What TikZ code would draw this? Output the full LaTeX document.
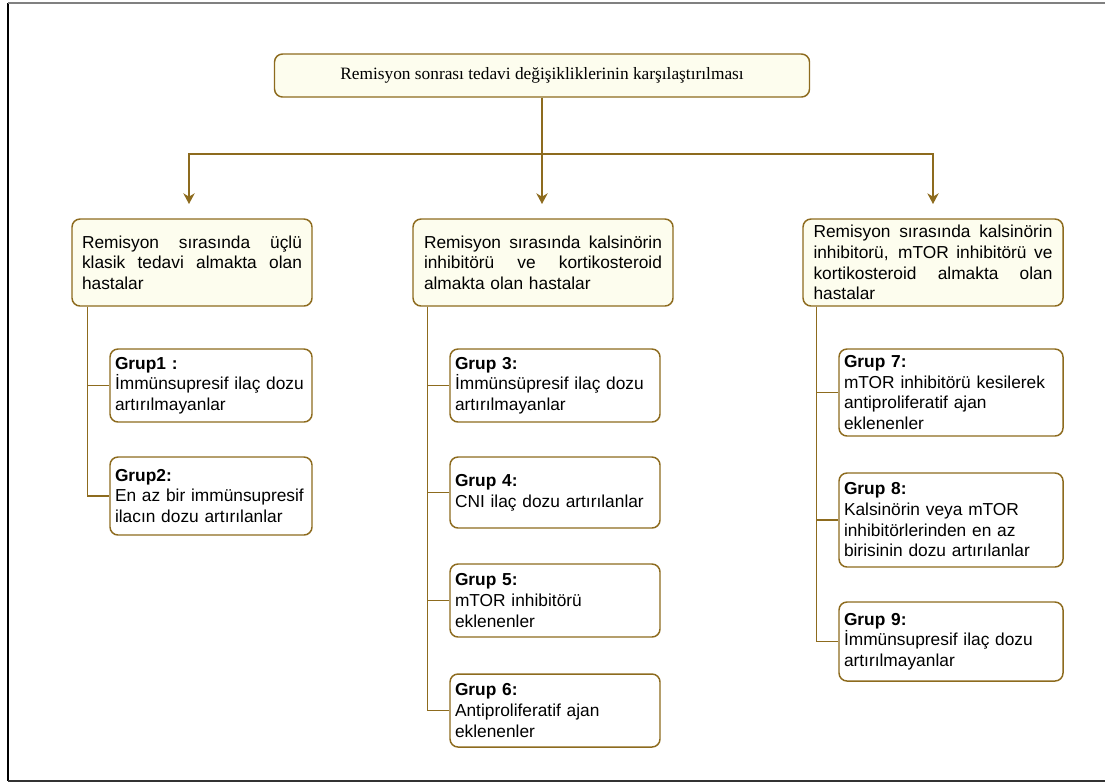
\documentclass[tikz,border=0pt]{standalone}
\usepackage{fontspec}
\setmainfont{Liberation Serif}
\setsansfont{Liberation Sans}
\usetikzlibrary{arrows.meta}
\definecolor{brn}{HTML}{8D6B1E}
\definecolor{cream}{HTML}{FDFDEE}
% one fully justified line, as wide as the node's text block
\newcommand{\jline}[1]{\noindent\hbox to \hsize{\spaceskip=0pt plus 1fill\relax #1}}
\begin{document}
\begin{tikzpicture}[x=0.75pt,y=-0.75pt,
  base/.style={draw=brn,line width=1.1pt,rounded corners=6pt,inner sep=0pt,
    font=\sffamily\fontsize{13}{15.5}\selectfont,align=left},
  head/.style={base,fill=cream,font=\rmfamily\fontsize{13}{15.5}\selectfont,align=center},
  cat/.style={base,fill=cream,minimum height=65.25pt},
  grp/.style={base,fill=white},
  link/.style={draw=brn,line width=1.1pt},
  arr/.style={link,-{Stealth[length=8pt,width=8.5pt,inset=2.5pt]}}]
\useasboundingbox (0,0) rectangle (1105,783);

% page frame
\draw[black,line width=1.5pt] (8,3) -- (8,781);
\draw[gray,line width=1.2pt] (8,3) -- (1105,3);
\draw[black!80,line width=1.5pt] (8,781) -- (1105,781);

% title
\node[head,minimum width=401.25pt,minimum height=32.25pt] (top) at (542,75.5)
  {Remisyon sonrası tedavi değişikliklerinin karşılaştırılması};

% branching arrows
\coordinate (hub) at (top.south |- 0,154);
\coordinate (ea) at (189,204);
\coordinate (eb) at (top.south |- 0,204);
\coordinate (ec) at (933,204);
\draw[link] (top.south) -- (hub);
\draw[arr] (hub) -| (ea);
\draw[arr] (hub) -| (ec);
\draw[arr] (top.south) -- (eb);

% patient categories
\node[cat,minimum width=180pt,text width=165pt] (A) at (192,262.5)
  {\jline{Remisyon sırasında üçlü}\\\jline{klasik tedavi almakta olan}\\hastalar};
\node[cat,minimum width=195pt,text width=178.5pt] (B) at (543,262.5)
  {\jline{Remisyon sırasında kalsinörin}\\\jline{inhibitörü ve kortikosteroid}\\almakta olan hastalar};
\node[cat,minimum width=195pt,text width=179.25pt] (C) at (933,262.5)
  {\jline{Remisyon sırasında kalsinörin}\\\jline{inhibitorü, mTOR inhibitörü ve}\\\jline{kortikosteroid almakta olan}\\hastalar};

% groups, first column
\node[grp,minimum width=151.5pt,text width=144pt,minimum height=54.75pt] (g1) at (211,385.5)
  {\textbf{Grup1 :}\\İmmünsupresif ilaç dozu\\artırılmayanlar};
\node[grp,minimum width=151.5pt,text width=144pt,minimum height=58.5pt] (g2) at (211,496)
  {\textbf{Grup2:}\\En az bir immünsupresif\\ilacın dozu artırılanlar};

% groups, second column
\node[grp,minimum width=157.5pt,text width=150pt,minimum height=54.75pt] (g3) at (555,385.5)
  {\textbf{Grup 3:}\\İmmünsüpresif ilaç dozu\\artırılmayanlar};
\node[grp,minimum width=157.5pt,text width=150pt,minimum height=53.25pt] (g4) at (555,492.5)
  {\textbf{Grup 4:}\\CNI ilaç dozu artırılanlar};
\node[grp,minimum width=157.5pt,text width=150pt,minimum height=54.75pt] (g5) at (555,600.5)
  {\textbf{Grup 5:}\\mTOR inhibitörü\\eklenenler};
\node[grp,minimum width=157.5pt,text width=150pt,minimum height=54.75pt] (g6) at (555,710.5)
  {\textbf{Grup 6:}\\Antiproliferatif ajan\\eklenenler};

% groups, third column
\node[grp,minimum width=168pt,text width=160.5pt,minimum height=65.25pt] (g7) at (951,392.5)
  {\textbf{Grup 7:}\\mTOR inhibitörü kesilerek\\antiproliferatif ajan\\eklenenler};
\node[grp,minimum width=168pt,text width=160.5pt,minimum height=70.5pt] (g8) at (951,520)
  {\textbf{Grup 8:}\\Kalsinörin veya mTOR\\inhibitörlerinden en az\\birisinin dozu artırılanlar};
\node[grp,minimum width=168pt,text width=160.5pt,minimum height=59.25pt] (g9) at (951,641.5)
  {\textbf{Grup 9:}\\İmmünsupresif ilaç dozu\\artırılmayanlar};

% tree connectors
\coordinate (ta) at ([xshift=12pt]A.south west);
\coordinate (tb) at ([xshift=11.25pt]B.south west);
\coordinate (tc) at ([xshift=10.5pt]C.south west);
\draw[link] (ta) |- (g1.west);
\draw[link] (ta) |- (g2.west);
\draw[link] (tb) |- (g3.west);
\draw[link] (tb) |- (g4.west);
\draw[link] (tb) |- (g5.west);
\draw[link] (tb) |- (g6.west);
\draw[link] (tc) |- (g7.west);
\draw[link] (tc) |- (g8.west);
\draw[link] (tc) |- (g9.west);
\end{tikzpicture}
\end{document}
